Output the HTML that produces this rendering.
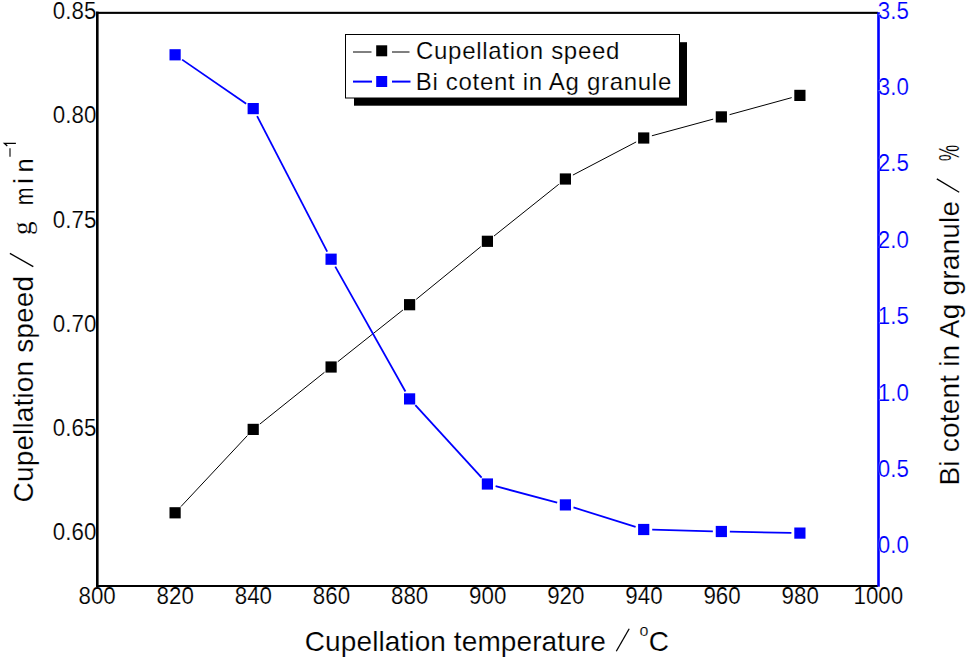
<!DOCTYPE html>
<html><head><meta charset="utf-8"><style>
html,body{margin:0;padding:0;background:#fff;width:968px;height:660px;overflow:hidden}
text{stroke:#fff;stroke-width:0.18px}
svg{display:block}
</style></head><body>
<svg width="968" height="660" viewBox="0 0 968 660">
<rect width="968" height="660" fill="#fff"/>
<rect x="96" y="11.8" width="782" height="2.1" fill="#000"/>
<rect x="96" y="585" width="782" height="2" fill="#000"/>
<rect x="96" y="11.6" width="2.6" height="575.1" fill="#000"/>
<rect x="877.2" y="12.2" width="2.6" height="574.5" fill="#00f"/>
<g>
<line x1="180.91" y1="506.60" x2="247.39" y2="435.60" stroke="#000" stroke-width="1"/>
<line x1="259.83" y1="424.09" x2="324.47" y2="372.31" stroke="#000" stroke-width="1"/>
<line x1="337.76" y1="361.72" x2="402.94" y2="309.98" stroke="#000" stroke-width="1"/>
<line x1="416.19" y1="299.33" x2="480.81" y2="246.67" stroke="#000" stroke-width="1"/>
<line x1="494.04" y1="236.00" x2="558.76" y2="184.30" stroke="#000" stroke-width="1"/>
<line x1="572.93" y1="175.06" x2="636.17" y2="141.94" stroke="#000" stroke-width="1"/>
<line x1="651.90" y1="135.77" x2="713.15" y2="119.13" stroke="#000" stroke-width="1"/>
<line x1="729.55" y1="114.66" x2="791.70" y2="97.64" stroke="#000" stroke-width="1"/>
<line x1="182.10" y1="59.62" x2="246.20" y2="103.78" stroke="#00f" stroke-width="1.8"/>
<line x1="257.11" y1="116.15" x2="327.19" y2="251.65" stroke="#00f" stroke-width="1.8"/>
<line x1="335.26" y1="266.61" x2="405.44" y2="391.49" stroke="#00f" stroke-width="1.8"/>
<line x1="415.34" y1="405.17" x2="481.66" y2="477.73" stroke="#00f" stroke-width="1.8"/>
<line x1="495.61" y1="486.20" x2="557.19" y2="502.70" stroke="#00f" stroke-width="1.8"/>
<line x1="573.51" y1="507.45" x2="635.59" y2="526.95" stroke="#00f" stroke-width="1.8"/>
<line x1="652.20" y1="529.72" x2="712.85" y2="531.28" stroke="#00f" stroke-width="1.8"/>
<line x1="729.85" y1="531.67" x2="791.40" y2="532.93" stroke="#00f" stroke-width="1.8"/>
<rect x="169.50" y="507.20" width="11.2" height="11.2" fill="#000"/>
<rect x="247.60" y="423.80" width="11.2" height="11.2" fill="#000"/>
<rect x="325.50" y="361.40" width="11.2" height="11.2" fill="#000"/>
<rect x="404.00" y="299.10" width="11.2" height="11.2" fill="#000"/>
<rect x="481.80" y="235.70" width="11.2" height="11.2" fill="#000"/>
<rect x="559.80" y="173.40" width="11.2" height="11.2" fill="#000"/>
<rect x="638.10" y="132.40" width="11.2" height="11.2" fill="#000"/>
<rect x="715.75" y="111.30" width="11.2" height="11.2" fill="#000"/>
<rect x="794.30" y="89.80" width="11.2" height="11.2" fill="#000"/>
<rect x="169.50" y="49.20" width="11.2" height="11.2" fill="#00f"/>
<rect x="247.60" y="103.00" width="11.2" height="11.2" fill="#00f"/>
<rect x="325.50" y="253.60" width="11.2" height="11.2" fill="#00f"/>
<rect x="404.00" y="393.30" width="11.2" height="11.2" fill="#00f"/>
<rect x="481.80" y="478.40" width="11.2" height="11.2" fill="#00f"/>
<rect x="559.80" y="499.30" width="11.2" height="11.2" fill="#00f"/>
<rect x="638.10" y="523.90" width="11.2" height="11.2" fill="#00f"/>
<rect x="715.75" y="525.90" width="11.2" height="11.2" fill="#00f"/>
<rect x="794.30" y="527.50" width="11.2" height="11.2" fill="#00f"/>
</g>
<g font-family="'Liberation Sans', sans-serif" font-size="23.5" fill="#000">
<text transform="translate(96.3,19.00) scale(0.95,1)" text-anchor="end">0.85</text>
<text transform="translate(96.3,123.25) scale(0.95,1)" text-anchor="end">0.80</text>
<text transform="translate(96.3,227.50) scale(0.95,1)" text-anchor="end">0.75</text>
<text transform="translate(96.3,331.75) scale(0.95,1)" text-anchor="end">0.70</text>
<text transform="translate(96.3,436.00) scale(0.95,1)" text-anchor="end">0.65</text>
<text transform="translate(96.3,540.25) scale(0.95,1)" text-anchor="end">0.60</text>
<text transform="translate(97.10,604.2) scale(0.95,1)" text-anchor="middle">800</text>
<text transform="translate(175.22,604.2) scale(0.95,1)" text-anchor="middle">820</text>
<text transform="translate(253.34,604.2) scale(0.95,1)" text-anchor="middle">840</text>
<text transform="translate(331.46,604.2) scale(0.95,1)" text-anchor="middle">860</text>
<text transform="translate(409.58,604.2) scale(0.95,1)" text-anchor="middle">880</text>
<text transform="translate(487.70,604.2) scale(0.95,1)" text-anchor="middle">900</text>
<text transform="translate(565.82,604.2) scale(0.95,1)" text-anchor="middle">920</text>
<text transform="translate(643.94,604.2) scale(0.95,1)" text-anchor="middle">940</text>
<text transform="translate(722.06,604.2) scale(0.95,1)" text-anchor="middle">960</text>
<text transform="translate(800.18,604.2) scale(0.95,1)" text-anchor="middle">980</text>
<text transform="translate(878.30,604.2) scale(0.95,1)" text-anchor="middle">1000</text>
</g>
<g font-family="'Liberation Sans', sans-serif" font-size="23.5" fill="#00f">
<text transform="translate(877.8,18.50) scale(0.95,1)">3.5</text>
<text transform="translate(877.8,94.91) scale(0.95,1)">3.0</text>
<text transform="translate(877.8,171.33) scale(0.95,1)">2.5</text>
<text transform="translate(877.8,247.74) scale(0.95,1)">2.0</text>
<text transform="translate(877.8,324.16) scale(0.95,1)">1.5</text>
<text transform="translate(877.8,400.57) scale(0.95,1)">1.0</text>
<text transform="translate(877.8,476.99) scale(0.95,1)">0.5</text>
<text transform="translate(877.8,553.40) scale(0.95,1)">0.0</text>
</g>
<rect x="354" y="42.2" width="333" height="63.5" fill="#000"/>
<rect x="345.5" y="34.5" width="334" height="63.5" fill="#fff" stroke="#000" stroke-width="1"/>
<line x1="353" y1="52" x2="371.5" y2="52" stroke="#000" stroke-width="1"/>
<line x1="392" y1="52" x2="409.5" y2="52" stroke="#000" stroke-width="1"/>
<rect x="376.2" y="45.3" width="11" height="11" fill="#000"/>
<line x1="353" y1="81.6" x2="372" y2="81.6" stroke="#00f" stroke-width="2"/>
<line x1="392" y1="81.6" x2="410.5" y2="81.6" stroke="#00f" stroke-width="2"/>
<rect x="376.2" y="76" width="11" height="11" fill="#00f"/>
<g font-family="'Liberation Sans', sans-serif" font-size="24" letter-spacing="0.7" fill="#000">
<text x="416" y="59">Cupellation speed</text>
<text x="415.7" y="89.6">Bi cotent in Ag granule</text>
</g>
<g font-family="'Liberation Sans', sans-serif" font-size="28" fill="#000">
<text x="304.8" y="651" letter-spacing="0.1">Cupellation temperature</text>
<line x1="616.3" y1="651.3" x2="629.2" y2="628.7" stroke="#000" stroke-width="1.3"/>
<text x="639.5" y="636" font-size="16">o</text>
<text x="648.8" y="651">C</text>
</g>
<g font-family="'Liberation Sans', sans-serif" font-size="28" fill="#000">
<text transform="translate(33.0,502.4) rotate(-90)" letter-spacing="0.14">Cupellation speed</text>
<line x1="33.3" y1="266.6" x2="9.9" y2="253.4" stroke="#000" stroke-width="1.3"/>
<text transform="translate(31.0,235.0) rotate(-90)" font-family="'Liberation Serif', serif" font-size="27">g</text>
<text transform="translate(32.9,205.3) rotate(-90) scale(0.8,1)" font-size="26.5">m</text>
<text transform="translate(32.9,184.0) rotate(-90)" font-size="28">i</text>
<text transform="translate(32.9,172.6) rotate(-90) scale(0.97,1)" font-size="26.5">n</text>
<line x1="10" y1="156.7" x2="10" y2="148.3" stroke="#000" stroke-width="1.1"/>
<path d="M15.9 143.3 L4.4 143.3 L7.3 146" fill="none" stroke="#000" stroke-width="1.3" stroke-linejoin="miter"/>
</g>
<g font-family="'Liberation Sans', sans-serif" font-size="28" fill="#000">
<text transform="translate(959.1,485.6) rotate(-90)" letter-spacing="0.2">Bi cotent in Ag granule</text>
<line x1="959.2" y1="192.3" x2="936.8" y2="178.9" stroke="#000" stroke-width="1.3"/>
<text transform="translate(959.2,161.3) rotate(-90) scale(0.63,1)" font-size="29.5">%</text>
</g>
</svg>
</body></html>
